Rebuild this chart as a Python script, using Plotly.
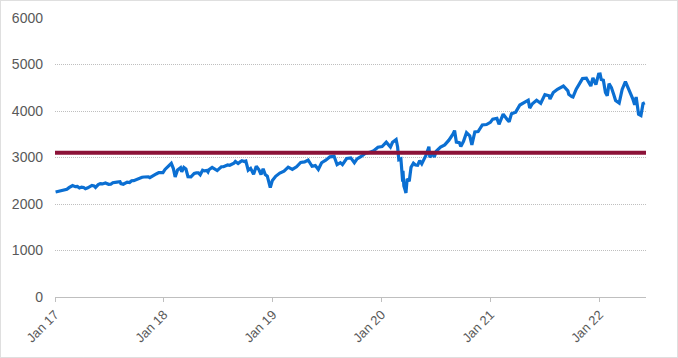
import plotly.graph_objects as go

dates = [
    "2017-01-03","2017-01-13","2017-01-20","2017-01-27","2017-02-03","2017-02-10","2017-02-17","2017-02-24","2017-03-01","2017-03-10",
    "2017-03-17","2017-03-24","2017-03-31","2017-04-07","2017-04-13","2017-04-21","2017-04-28","2017-05-05","2017-05-12","2017-05-17",
    "2017-05-26","2017-06-02","2017-06-09","2017-06-19","2017-06-30","2017-07-07","2017-07-14","2017-07-21","2017-07-28","2017-08-07",
    "2017-08-10","2017-08-18","2017-08-25","2017-08-31","2017-09-08","2017-09-15","2017-09-22","2017-09-29","2017-10-06","2017-10-13",
    "2017-10-20","2017-10-27","2017-11-03","2017-11-10","2017-11-15","2017-11-24","2017-12-01","2017-12-08","2017-12-15","2017-12-22",
    "2017-12-29",
    "2018-01-05","2018-01-12","2018-01-19","2018-01-26","2018-02-02","2018-02-08","2018-02-16","2018-02-26","2018-03-02","2018-03-09",
    "2018-03-16","2018-03-23","2018-04-02","2018-04-06","2018-04-13","2018-04-20","2018-04-27","2018-05-03","2018-05-11","2018-05-18",
    "2018-05-25","2018-05-29","2018-06-01","2018-06-12","2018-06-22","2018-06-29","2018-07-06","2018-07-13","2018-07-20","2018-07-27",
    "2018-08-03","2018-08-10","2018-08-17","2018-08-24","2018-08-29","2018-09-07","2018-09-14","2018-09-20","2018-09-28","2018-10-03",
    "2018-10-11","2018-10-19","2018-10-29","2018-11-02","2018-11-07","2018-11-16","2018-11-23","2018-11-30","2018-12-07","2018-12-14",
    "2018-12-21","2018-12-24","2018-12-31",
    "2019-01-11","2019-01-25","2019-02-08","2019-02-22","2019-03-08","2019-03-22","2019-04-05","2019-04-18","2019-04-30","2019-05-13",
    "2019-05-24","2019-06-03","2019-06-14","2019-06-28","2019-07-12","2019-07-26","2019-08-05","2019-08-16","2019-08-23","2019-09-06",
    "2019-09-20","2019-10-02","2019-10-11","2019-10-25","2019-11-08","2019-11-22","2019-12-06","2019-12-20",
    "2020-01-03","2020-01-17","2020-01-31","2020-02-07","2020-02-19","2020-02-24","2020-02-28","2020-03-06","2020-03-12","2020-03-13",
    "2020-03-16","2020-03-20","2020-03-23","2020-03-27","2020-04-03","2020-04-09","2020-04-17","2020-04-24","2020-05-01","2020-05-08",
    "2020-05-15","2020-05-22","2020-05-29","2020-06-08","2020-06-11","2020-06-19","2020-06-26","2020-07-02","2020-07-17","2020-07-31",
    "2020-08-14","2020-08-28","2020-09-02","2020-09-08","2020-09-18","2020-09-23","2020-10-02","2020-10-12","2020-10-23","2020-10-30",
    "2020-11-09","2020-11-20","2020-12-04","2020-12-18","2020-12-31",
    "2021-01-08","2021-01-22","2021-01-29","2021-02-12","2021-02-26","2021-03-04","2021-03-12","2021-03-26","2021-04-09","2021-04-23",
    "2021-05-07","2021-05-12","2021-05-21","2021-06-04","2021-06-18","2021-07-02","2021-07-16","2021-07-19","2021-07-30","2021-08-13",
    "2021-08-27","2021-09-02","2021-09-17","2021-09-20","2021-09-30","2021-10-04","2021-10-15","2021-10-29","2021-11-05","2021-11-18",
    "2021-11-30","2021-12-03","2021-12-10","2021-12-20","2021-12-29",
    "2022-01-03","2022-01-07","2022-01-14","2022-01-21","2022-01-27","2022-02-02","2022-02-10","2022-02-18","2022-02-24","2022-03-08",
    "2022-03-18","2022-03-29","2022-04-08","2022-04-14","2022-04-22","2022-04-29","2022-05-04","2022-05-12","2022-05-20","2022-05-27",
    "2022-06-02",
]

sp500 = [
    2258,2275,2271,2295,2297,2316,2351,2367,2396,2373,
    2378,2344,2363,2355,2329,2348,2384,2399,2390,2357,
    2416,2439,2432,2453,2423,2425,2459,2473,2472,2481,
    2438,2425,2443,2471,2461,2500,2502,2519,2549,2553,
    2575,2581,2588,2582,2565,2602,2642,2651,2675,2683,
    2674,
    2743,2786,2810,2873,2762,2581,2732,2780,2691,2786,
    2752,2588,2582,2605,2656,2670,2670,2630,2728,2712,
    2721,2690,2735,2787,2755,2718,2760,2801,2802,2819,
    2840,2833,2850,2875,2914,2872,2905,2931,2914,2925,
    2728,2767,2641,2723,2814,2736,2633,2760,2633,2600,
    2417,2351,2507,
    2596,2665,2708,2793,2743,2800,2893,2905,2946,2812,
    2826,2744,2887,2942,3014,3026,2845,2889,2847,2979,
    2992,2888,2970,3023,3093,3110,3146,3221,
    3235,3330,3226,3328,3386,3226,2954,2972,2481,2711,
    2386,2305,2237,2541,2489,2790,2875,2837,2831,2930,
    2864,2955,3044,3232,3002,3098,3009,3130,3225,3271,
    3373,3508,3580,3332,3319,3237,3348,3535,3465,3270,
    3550,3557,3699,3709,3756,
    3825,3841,3714,3934,3811,3768,3943,3975,4129,4180,
    4233,4063,4156,4230,4166,4352,4327,4258,4395,4468,
    4509,4537,4433,4358,4308,4300,4471,4605,4697,4704,
    4567,4538,4712,4568,4793,
    4796,4677,4663,4398,4326,4589,4504,4349,4225,4170,
    4463,4632,4488,4393,4272,4132,4300,3930,3901,4158,
    4176,
]

threshold = 3100
y_ticks = [0, 1000, 2000, 3000, 4000, 5000, 6000]
x_tick_dates = ["2017-01-01","2018-01-01","2019-01-01","2020-01-01","2021-01-01","2022-01-01"]
x_tick_labels = ["Jan 17","Jan 18","Jan 19","Jan 20","Jan 21","Jan 22"]
x_range = ["2017-01-01", "2022-06-06"]

W, H = 678, 358
ML, MR, MT, MB = 55, 32, 18, 61

fig = go.Figure()
fig.add_trace(go.Scatter(
    x=dates, y=sp500, mode="lines",
    line=dict(color="#0B6FD2", width=3.2),
    hoverinfo="skip", showlegend=False,
))
fig.add_trace(go.Scatter(
    x=x_range, y=[threshold, threshold], mode="lines",
    line=dict(color="#8C1238", width=4),
    hoverinfo="skip", showlegend=False,
))

pw = W - ML - MR
ph = H - MT - MB
fig.add_shape(
    type="rect", xref="paper", yref="paper",
    x0=(0.5 - ML) / pw, x1=(W - 0.5 - ML) / pw,
    y0=-(H - 0.5 - MT - ph) / ph, y1=1 + (MT - 0.5) / ph,
    line=dict(color="#BFBFBF", width=1, dash="1px,1px"),
    layer="below",
)

fig.update_layout(
    width=W, height=H,
    margin=dict(l=ML, r=MR, t=MT, b=MB, autoexpand=False),
    paper_bgcolor="white", plot_bgcolor="white",
    font=dict(family="Liberation Sans, Arial, sans-serif", size=14, color="#595959"),
    xaxis=dict(
        type="date", range=x_range, automargin=False,
        tickvals=x_tick_dates, ticktext=x_tick_labels,
        tickangle=-45, showgrid=False,
        showline=True, linecolor="#BFBFBF", linewidth=1,
        ticks="outside", ticklen=4, tickcolor="#BFBFBF",
        tickfont=dict(size=13, color="#595959"),
        zeroline=False,
    ),
    yaxis=dict(
        range=[0, 6000], tickvals=y_ticks, automargin=False,
        showgrid=True, gridcolor="#BFBFBF", griddash="1px,1px", gridwidth=1,
        zeroline=False, showline=False,
        ticks="", ticklabelstandoff=11,
        tickfont=dict(size=14, color="#595959"),
    ),
)

fig.write_html("out.html", config={"displayModeBar": False, "staticPlot": True},
               post_script="document.body.style.margin='0';")
